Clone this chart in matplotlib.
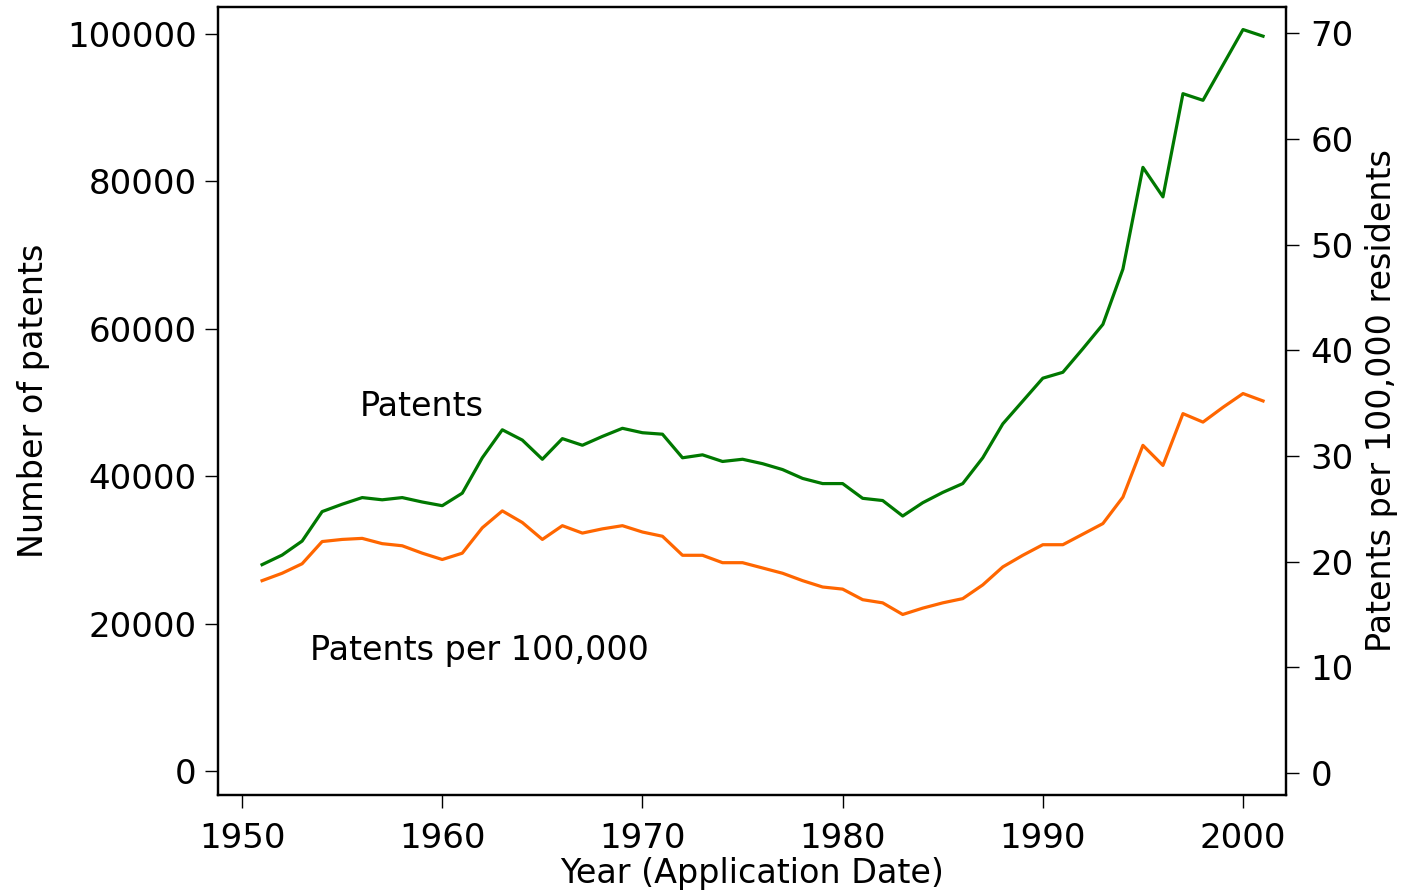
import matplotlib
matplotlib.use('Agg')
import matplotlib.pyplot as plt

plt.rcParams['font.family'] = ['DejaVu Sans']

years = list(range(1951, 2002))
patents = [28000, 29300, 31200, 35200, 36200, 37100, 36800, 37100, 36500, 36000,
           37700, 42500, 46300, 44900, 42300, 45100, 44200, 45400, 46500, 45900,
           45700, 42500, 42900, 42000, 42300, 41700, 40900, 39700, 39000, 39000,
           37000, 36700, 34600, 36400, 37800, 39000, 42500, 47100, 50200, 53300,
           54100, 57300, 60600, 68100, 81900, 77900, 91900, 91000, 95800, 100600,
           99700]
per_100k = [18.2, 18.9, 19.8, 21.9, 22.1, 22.2, 21.7, 21.5, 20.8, 20.2,
            20.8, 23.2, 24.8, 23.7, 22.1, 23.4, 22.7, 23.1, 23.4, 22.8,
            22.4, 20.6, 20.6, 19.9, 19.9, 19.4, 18.9, 18.2, 17.6, 17.4,
            16.4, 16.1, 15.0, 15.6, 16.1, 16.5, 17.8, 19.5, 20.6, 21.6,
            21.6, 22.6, 23.6, 26.1, 31.0, 29.1, 34.0, 33.2, 34.6, 35.9,
            35.2]

left_ticks = [0, 20000, 40000, 60000, 80000, 100000]
right_ticks = [0, 10, 20, 30, 40, 50, 60, 70]
x_ticks = [1950, 1960, 1970, 1980, 1990, 2000]

fs = 24
tfs = 24.5
fig = plt.figure(figsize=(14.04, 8.94), dpi=100)
ax = fig.add_axes([0.1553, 0.1107, 0.7607, 0.8815])
ax2 = ax.twinx()

ax.plot(years, patents, color='#007800', linewidth=2.3)
ax2.plot(years, per_100k, color='#FF6600', linewidth=2.3)

ax.set_xlim(1948.8, 2002.15)
ax.set_ylim(-3256, 103663)
ax2.set_ylim(-2.08, 72.47)

ax.set_xticks(x_ticks)
ax.set_yticks(left_ticks)
ax2.set_yticks(right_ticks)
ax.tick_params(axis='x', labelsize=tfs, length=9.5, width=1, direction='out', pad=10)
ax.tick_params(axis='y', labelsize=tfs, length=9.5, width=1, direction='out', pad=6)
ax2.tick_params(axis='y', labelsize=tfs, length=9.5, width=1, direction='out', pad=8)

for a in (ax, ax2):
    for s in a.spines.values():
        s.set_linewidth(1.6)

ax.set_xlabel('Year (Application Date)', fontsize=fs, labelpad=1)
ax.set_ylabel('Number of patents', fontsize=fs, labelpad=12)
ax2.set_ylabel('Patents per 100,000 residents', fontsize=fs, labelpad=8)

ax.text(1955.9, 49400, 'Patents', fontsize=fs, va='center', ha='left')
ax.text(1953.4, 16400, 'Patents per 100,000', fontsize=fs, va='center', ha='left')

plt.savefig('out.png', dpi=100)
